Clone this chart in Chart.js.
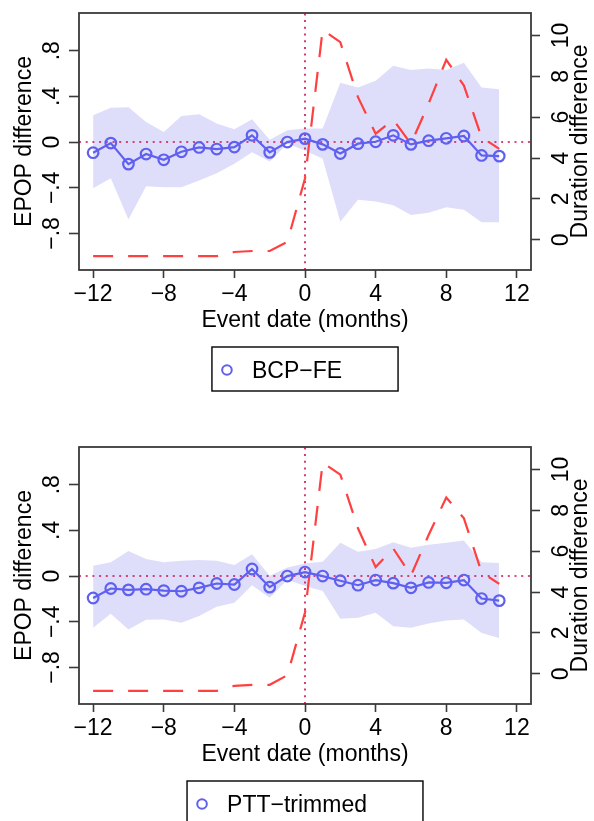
<!DOCTYPE html>
<html>
<head>
<meta charset="utf-8">
<script src="https://cdn.jsdelivr.net/npm/chart.js@4.4.1/dist/chart.umd.min.js"></script>
<style>
  html, body { margin: 0; padding: 0; background: #fff; overflow: hidden; }
  .panel { position: absolute; left: 0; width: 594px; height: 410px; }
  #p1 { top: 0; }
  #p2 { top: 434px; }
</style>
</head>
<body>
<div class="panel" id="p1"><canvas id="c1"></canvas></div>
<div class="panel" id="p2"><canvas id="c2"></canvas></div>
<script>
// event months
const months = [-12, -11, -10, -9, -8, -7, -6, -5, -4, -3, -2, -1, 0, 1, 2, 3, 4, 5, 6, 7, 8, 9, 10, 11];

// tick labels
const xTicks = [-12, -8, -4, 0, 4, 8, 12];
const epopTicks = [-0.8, -0.4, 0, 0.4, 0.8];
const durTicks = [0, 2, 4, 6, 8, 10];

// panel 1: BCP-FE
const bcpEpop  = [-0.093, -0.009, -0.193, -0.105, -0.155, -0.085, -0.047, -0.061, -0.044, 0.059, -0.09, 0.0, 0.03,
                  -0.02, -0.10, -0.014, 0.003, 0.059, -0.02, 0.012, 0.033, 0.053, -0.117, -0.123];
const bcpUpper = [0.235, 0.30, 0.305, 0.176, 0.088, 0.229, 0.244, 0.162, 0.112, 0.20, 0.021, 0.103, 0.118,
                  0.118, 0.519, 0.478, 0.536, 0.668, 0.63, 0.645, 0.63, 0.695, 0.478, 0.463];
const bcpLower = [-0.404, -0.316, -0.677, -0.387, -0.396, -0.396, -0.337, -0.272, -0.19, -0.09, -0.17, -0.014, -0.073,
                  -0.146, -0.697, -0.506, -0.521, -0.554, -0.638, -0.618, -0.571, -0.592, -0.703, -0.703];
const bcpDur   = [-0.8, -0.8, -0.8, -0.8, -0.8, -0.8, -0.8, -0.8, -0.6, -0.55, -0.55, -0.1, 3.0,
                  10.28, 9.67, 6.98, 5.19, 5.87, 4.7, 6.66, 8.81, 7.55, 5.02, 4.45];

// panel 2: PTT-trimmed
const pttEpop  = [-0.192, -0.109, -0.121, -0.115, -0.127, -0.133, -0.103, -0.065, -0.074, 0.062, -0.097, 0.0, 0.035,
                  0.0, -0.041, -0.08, -0.035, -0.062, -0.103, -0.056, -0.059, -0.035, -0.197, -0.215];
const pttUpper = [0.091, 0.12, 0.22, 0.15, 0.12, 0.135, 0.141, 0.135, 0.097, 0.19, 0.003, 0.076, 0.111,
                  0.126, 0.291, 0.214, 0.238, 0.297, 0.247, 0.274, 0.291, 0.312, 0.12, 0.115];
const pttLower = [-0.453, -0.33, -0.468, -0.383, -0.38, -0.409, -0.35, -0.268, -0.233, -0.08, -0.189, -0.032, -0.086,
                  -0.13, -0.374, -0.365, -0.321, -0.439, -0.453, -0.415, -0.388, -0.38, -0.498, -0.542];
const pttDur   = [-0.84, -0.84, -0.84, -0.84, -0.84, -0.84, -0.84, -0.84, -0.59, -0.54, -0.54, -0.07, 3.0,
                  10.33, 9.75, 7.12, 5.22, 6.13, 4.81, 6.79, 8.63, 7.61, 4.97, 4.40];

const X_MIN = -12.8, X_MAX = 12.8;
const Y_MIN = -1.12, Y_MAX = 1.13;
const Y2_MIN = -1.48, Y2_MAX = 11.1;

const FONT = '"Liberation Sans", Arial, Helvetica, sans-serif';
const AXIS = '#3a3a3a';
const BLUE = '#5f5ff0';
const RED = '#ff4040';
const DOT = '#c8104a';

Chart.defaults.font.family = FONT;
Chart.defaults.font.size = 23;
Chart.defaults.color = '#000';

const minus = (s) => s.replace('-', '\u2212');
const fmtInt = (v) => minus(String(v));
const fmtEpop = (v) => v === 0 ? '0' : minus(String(v).replace('0.', '.'));

function pts(ys) {
  return months.map((m, i) => ({ x: m, y: ys[i] }));
}

const fixedTicks = (list) => (s) => { s.ticks = list.map(v => ({ value: v })); };
const fixedWidth = (w) => (s) => { s.width = w; s.paddingTop = 0; s.paddingBottom = 0; };

// frame, right-hand title (reads bottom to top) and boxed legend
const decor = {
  id: 'decor',
  afterDraw(chart, args, o) {
    const { ctx, chartArea: a } = chart;
    ctx.save();
    ctx.strokeStyle = AXIS;
    ctx.lineWidth = 1.8;
    ctx.strokeRect(a.left, a.top, a.right - a.left, a.bottom - a.top);

    const y2 = chart.scales.y2;
    ctx.save();
    ctx.translate(y2.left + 50, (a.top + a.bottom) / 2);
    ctx.rotate(-Math.PI / 2);
    ctx.font = '23px ' + FONT;
    ctx.fillStyle = '#000';
    ctx.textAlign = 'center';
    ctx.textBaseline = 'middle';
    ctx.fillText(o.rightTitle, 0, 0);
    ctx.restore();

    const ds = chart.data.datasets[o.legendIndex];
    ctx.font = '23px ' + FONT;
    const tw = ctx.measureText(ds.label).width;
    const w = 40 + tw + 56, h = 44;
    const x0 = (a.left + a.right) / 2 - w / 2;
    const y0 = a.bottom + 77;
    ctx.strokeStyle = '#000';
    ctx.lineWidth = 1.4;
    ctx.strokeRect(x0, y0, w, h);
    ctx.strokeStyle = ds.borderColor;
    ctx.fillStyle = 'rgba(0,0,0,0)';
    ctx.lineWidth = 2;
    Chart.helpers.drawPoint(ctx, { pointStyle: 'circle', radius: 4.8, borderWidth: 2, rotation: 0 }, x0 + 15, y0 + 23);
    ctx.fillStyle = '#000';
    ctx.textAlign = 'left';
    ctx.textBaseline = 'alphabetic';
    ctx.fillText(ds.label, x0 + 40, y0 + 31);
    ctx.restore();
  }
};

function makeChart(id, label, epop, upper, lower, dur) {
  return new Chart(document.getElementById(id), {
    type: 'line',
    data: {
      datasets: [
        { data: pts(lower), borderWidth: 0, pointRadius: 0, fill: false, order: 10 },
        { data: pts(upper), borderWidth: 0, pointRadius: 0, fill: '-1', backgroundColor: '#dedefb', order: 9 },
        { data: [{ x: X_MIN, y: 0 }, { x: X_MAX, y: 0 }], borderColor: DOT, borderWidth: 1.6,
          borderDash: [2, 4.7], pointRadius: 0, fill: false, order: 5 },
        { data: [{ x: 0, y: Y_MIN }, { x: 0, y: Y_MAX }], borderColor: DOT, borderWidth: 1.6,
          borderDash: [2, 4.7], pointRadius: 0, fill: false, order: 5 },
        { label: label, data: pts(epop), borderColor: BLUE, borderWidth: 2.2, backgroundColor: 'rgba(0,0,0,0)',
          pointStyle: 'circle', pointRadius: 5.3, pointBorderWidth: 2.2, pointBorderColor: BLUE,
          pointBackgroundColor: 'rgba(0,0,0,0)', fill: false, order: 1 },
        { data: pts(dur), yAxisID: 'y2', borderColor: RED, borderWidth: 2.2, borderDash: [20, 15],
          pointRadius: 0, fill: false, order: 2 }
      ]
    },
    options: {
      responsive: true,
      maintainAspectRatio: false,
      animation: false,
      events: [],
      layout: { padding: { top: 13, left: 0, right: 0, bottom: 70 } },
      plugins: {
        legend: { display: false },
        tooltip: { enabled: false },
        decor: { rightTitle: 'Duration difference', legendIndex: 4 }
      },
      scales: {
        x: {
          type: 'linear', min: X_MIN, max: X_MAX,
          afterBuildTicks: fixedTicks(xTicks),
          afterFit: (s) => { s.height = 70; },
          grid: { drawOnChartArea: false, tickLength: 8, tickColor: AXIS, tickWidth: 1.6 },
          border: { display: false },
          ticks: { padding: 3, maxRotation: 0, callback: fmtInt },
          title: { display: true, text: 'Event date (months)', padding: { top: 0, bottom: 6 } }
        },
        y: {
          position: 'left', min: Y_MIN, max: Y_MAX,
          afterBuildTicks: fixedTicks(epopTicks),
          afterFit: fixedWidth(79),
          grid: { drawOnChartArea: false, tickLength: 10, tickColor: AXIS, tickWidth: 1.6 },
          border: { display: false },
          ticks: { minRotation: 90, maxRotation: 90, crossAlign: 'center', padding: 0, callback: fmtEpop },
          title: { display: true, text: 'EPOP difference', padding: { top: 11, bottom: 0 } }
        },
        y2: {
          position: 'right', min: Y2_MIN, max: Y2_MAX,
          afterBuildTicks: fixedTicks(durTicks),
          afterFit: fixedWidth(63),
          grid: { drawOnChartArea: false, tickLength: 9, tickColor: AXIS, tickWidth: 1.6 },
          border: { display: false },
          ticks: { minRotation: 90, maxRotation: 90, crossAlign: 'center', padding: 9, callback: fmtInt }
        }
      }
    },
    plugins: [decor]
  });
}

makeChart('c1', 'BCP\u2212FE', bcpEpop, bcpUpper, bcpLower, bcpDur);
makeChart('c2', 'PTT\u2212trimmed', pttEpop, pttUpper, pttLower, pttDur);
</script>
</body>
</html>
